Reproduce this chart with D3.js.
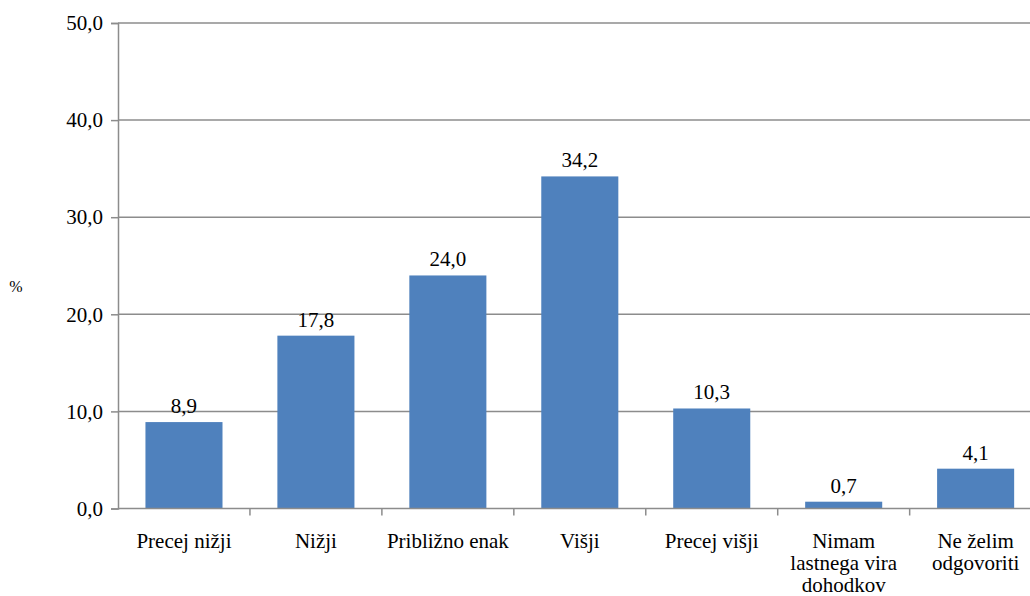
<!DOCTYPE html>
<html>
<head>
<meta charset="utf-8">
<script src="https://cdn.jsdelivr.net/npm/d3@7"></script>
<style>
  html, body { margin: 0; padding: 0; background: #fff; }
  svg { display: block; overflow: hidden; }
</style>
</head>
<body>
<svg id="chart" width="1030" height="596"></svg>
<script>
const categories = [
  ["Precej nižji"],
  ["Nižji"],
  ["Približno enak"],
  ["Višji"],
  ["Precej višji"],
  ["Nimam", "lastnega vira", "dohodkov"],
  ["Ne želim", "odgovoriti"]
];
const values = [8.9, 17.8, 24.0, 34.2, 10.3, 0.7, 4.1];
const yTicks = [0, 10, 20, 30, 40, 50];
const yLabel = "%";

(function () {
const fmt = v => v.toFixed(1).replace(".", ",");
const FONT = "'Liberation Serif', 'Times New Roman', serif";

const svg = d3.select("#chart");
const mLeft = 118, mRight = 1041.6, mTop = 23, mBottom = 508.5;
const gridColor = "#8c8c8c";
const fontSize = 21;

const x = d3.scaleBand()
  .domain(d3.range(categories.length))
  .range([mLeft, mRight])
  .paddingInner(0.416)
  .paddingOuter(0.208);

const y = d3.scaleLinear().domain([0, 50]).range([mBottom, mTop]);

// gridlines
svg.append("g").selectAll("line").data(yTicks.filter(t => t > 0)).join("line")
  .attr("x1", mLeft).attr("x2", mRight)
  .attr("y1", d => y(d)).attr("y2", d => y(d))
  .attr("stroke", gridColor).attr("stroke-width", 1.5);

// bars
svg.append("g").selectAll("rect").data(values).join("rect")
  .attr("x", (d, i) => x(i))
  .attr("width", x.bandwidth())
  .attr("y", d => y(d))
  .attr("height", d => y(0) - y(d))
  .attr("fill", "#4F81BD");

// y axis
const yAxis = d3.axisLeft(y).tickValues(yTicks).tickSize(7).tickPadding(8).tickFormat(fmt);
const gy = svg.append("g").attr("transform", `translate(${mLeft},0)`).call(yAxis);
gy.attr("font-family", null).attr("font-size", null);
gy.select(".domain").attr("stroke", gridColor).attr("stroke-width", 1.5);
gy.selectAll(".tick line").attr("stroke", gridColor).attr("stroke-width", 1.5);
gy.selectAll(".tick text")
  .style("font-family", FONT)
  .style("font-size", fontSize + "px").attr("fill", "#000");

// x axis line
svg.append("line")
  .attr("x1", mLeft).attr("x2", mRight)
  .attr("y1", y(0)).attr("y2", y(0))
  .attr("stroke", gridColor).attr("stroke-width", 1.5);

// x tick marks at band boundaries
const boundaries = d3.range(1, categories.length + 1).map(i => mLeft + i * x.step());
svg.append("g").selectAll("line").data(boundaries).join("line")
  .attr("x1", d => d).attr("x2", d => d)
  .attr("y1", y(0)).attr("y2", y(0) + 7)
  .attr("stroke", gridColor).attr("stroke-width", 1.5);

// category labels
const catG = svg.append("g").selectAll("text").data(categories).join("text")
  .attr("text-anchor", "middle")
  .attr("x", (d, i) => x(i) + x.bandwidth() / 2)
  .attr("y", 548)
  .style("font-family", FONT)
  .style("font-size", fontSize + "px")
  .attr("fill", "#000");
catG.each(function(lines, i) {
  const t = d3.select(this);
  lines.forEach((ln, k) => {
    t.append("tspan")
      .attr("x", x(i) + x.bandwidth() / 2)
      .attr("dy", k === 0 ? 0 : 22)
      .text(ln);
  });
});

// value labels
svg.append("g").selectAll("text").data(values).join("text")
  .attr("text-anchor", "middle")
  .attr("x", (d, i) => x(i) + x.bandwidth() / 2)
  .attr("y", d => y(d) - 9)
  .style("font-family", FONT)
  .style("font-size", fontSize + "px")
  .attr("fill", "#000")
  .text(fmt);

// y label
svg.append("text")
  .attr("x", 16).attr("y", 292)
  .attr("text-anchor", "middle")
  .style("font-family", FONT)
  .style("font-size", "16px")
  .attr("fill", "#000")
  .text(yLabel);
})();
</script>
</body>
</html>
